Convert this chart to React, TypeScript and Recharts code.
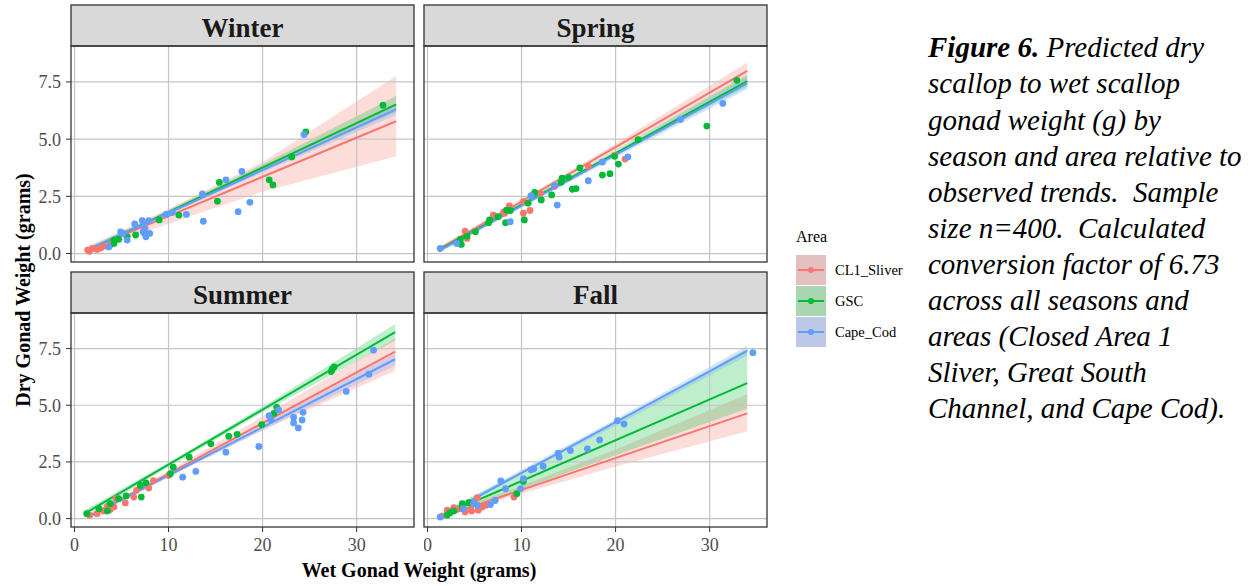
import React from 'react';
import { ComposedChart, XAxis, YAxis, Scatter, Line, Area, ReferenceLine } from 'recharts';

// ---------- categories & tick labels ----------
const AREAS = ['CL1_Sliver', 'GSC', 'Cape_Cod'];
const AREA_COLORS: Record<string, string> = { CL1_Sliver: '#F8766D', GSC: '#00BA38', Cape_Cod: '#619CFF' };
const KEY_FILLS: Record<string, string> = { CL1_Sliver: '#E3C1C0', GSC: '#A8D6B0', Cape_Cod: '#BCC8E6' };
const SEASONS = ['Winter', 'Spring', 'Summer', 'Fall'];
const X_TICKS = [0, 10, 20, 30];
const Y_TICKS = [0, 2.5, 5, 7.5];
const X_DOMAIN: [number, number] = [-0.37, 36.1];
const Y_DOMAIN: [number, number] = [-0.37, 9.07];
const X_TITLE = 'Wet Gonad Weight (grams)';
const Y_TITLE = 'Dry Gonad Weight (grams)';
const LEGEND_TITLE = 'Area';
const CAPTION_BOLD = 'Figure 6.';
const CAPTION_LINES = [
  ' Predicted dry',
  'scallop to wet scallop',
  'gonad weight (g) by',
  'season and area relative to',
  'observed trends.  Sample',
  'size n=400.  Calculated',
  'conversion factor of 6.73',
  'across all seasons and',
  'areas (Closed Area 1',
  'Sliver, Great South',
  'Channel, and Cape Cod).',
];

// ---------- observed points [wet, dry] ----------
const winterCL1Pts = [[1.4, 0.15], [1.6, 0.1], [1.9, 0.22], [2.4, 0.18], [2.8, 0.24], [3.1, 0.32], [3.8, 0.37], [4.3, 0.6]];
const winterGSCPts = [[32.8, 6.48], [24.6, 5.32], [23.1, 4.22], [15.4, 3.11], [15.2, 2.29], [20.7, 3.22], [21.1, 3.0], [11.1, 1.68], [9.0, 1.47], [7.45, 0.88], [6.5, 0.81], [5.6, 0.73], [4.2, 0.59], [4.2, 0.44], [4.7, 0.62]];
const winterCCPts = [[24.4, 5.2], [17.8, 3.59], [16.1, 3.22], [13.6, 2.61], [18.65, 2.24], [17.4, 1.83], [13.7, 1.41], [11.9, 1.71], [10.4, 1.79], [9.75, 1.71], [6.4, 1.29], [7.2, 1.44], [7.9, 1.44], [7.3, 0.95], [7.5, 1.1], [4.9, 0.95], [5.2, 0.88], [3.65, 0.29], [5.6, 0.59], [7.6, 0.73], [8.0, 0.88]];

const springCL1Pts = [[21.0, 4.13], [19.9, 4.29], [17.1, 3.81], [12.0, 2.64], [10.2, 2.27], [10.9, 1.88], [10.2, 1.76], [8.7, 2.08], [8.1, 1.82], [7.0, 1.68], [4.0, 0.98], [4.2, 0.66], [8.2, 1.76], [13.5, 2.93]];
const springGSCPts = [[32.9, 7.57], [29.7, 5.57], [22.4, 4.98], [19.9, 4.25], [20.3, 3.91], [19.4, 3.49], [18.6, 3.43], [16.2, 3.74], [15.0, 3.33], [14.3, 3.3], [14.2, 3.11], [15.4, 2.81], [15.8, 2.84], [13.2, 2.56], [12.1, 2.34], [11.4, 2.67], [10.7, 2.2], [10.3, 1.47], [8.8, 1.88], [8.4, 1.9], [8.3, 1.35], [7.5, 1.61], [6.6, 1.47], [6.5, 1.35], [5.1, 0.95], [4.2, 0.76], [3.6, 0.4], [3.1, 0.47], [3.5, 0.62]];
const springCCPts = [[31.4, 6.56], [26.9, 5.86], [21.3, 4.22], [18.6, 4.0], [17.1, 3.18], [13.5, 2.97], [13.8, 2.12], [11.0, 2.53], [8.8, 1.39], [3.1, 0.44], [1.35, 0.22]];

const summerCL1Pts = [[10.0, 1.9], [8.4, 1.68], [7.9, 1.35], [6.6, 1.25], [6.3, 0.95], [5.4, 0.69], [4.4, 0.88], [4.2, 0.51], [3.5, 0.54], [3.1, 0.34], [2.4, 0.22], [1.6, 0.15], [3.8, 0.4]];
const summerGSCPts = [[27.6, 6.69], [27.3, 6.49], [27.4, 6.59], [21.5, 4.91], [21.2, 4.64], [19.9, 4.15], [17.3, 3.72], [16.4, 3.63], [14.5, 3.3], [12.2, 2.71], [10.5, 2.27], [10.2, 1.98], [7.6, 1.58], [7.0, 1.46], [7.1, 0.95], [5.5, 1.0], [4.7, 0.88], [3.5, 0.34], [2.6, 0.44], [1.3, 0.22], [3.8, 0.66]];
const summerCCPts = [[31.8, 7.43], [31.3, 6.37], [28.9, 5.61], [24.2, 4.35], [24.3, 4.69], [23.3, 4.47], [23.3, 4.22], [23.8, 4.0], [21.7, 4.8], [20.7, 4.54], [20.9, 4.35], [19.6, 3.18], [16.1, 2.93], [12.9, 2.08], [11.5, 1.83]];

const fallCL1Pts = [[9.2, 0.95], [5.3, 0.92], [5.8, 0.51], [5.4, 0.37], [4.6, 0.4], [3.3, 0.44], [2.8, 0.48], [2.1, 0.37], [1.5, 0.1], [6.2, 0.59], [4.7, 0.34], [4.0, 0.29]];
const fallGSCPts = [[10.2, 1.64], [9.5, 1.1], [4.4, 0.7], [3.7, 0.66], [3.7, 0.48], [2.4, 0.26], [2.1, 0.15], [2.8, 0.34]];
const fallCCPts = [[34.6, 7.32], [20.2, 4.32], [20.9, 4.17], [18.3, 3.47], [17.0, 3.08], [15.2, 3.0], [13.9, 2.89], [14.0, 2.71], [12.3, 2.31], [11.3, 2.2], [11.0, 2.15], [10.2, 1.76], [7.8, 1.66], [8.3, 1.32], [7.2, 0.8], [6.7, 0.62], [9.9, 1.32], [5.3, 0.59], [4.9, 0.66], [3.8, 0.44], [1.35, 0.07]];

// ---------- predicted lines [wet, dry] ----------
const winterCL1Fit = [[1.3, 0.15], [34.2, 5.78]];
const winterGSCFit = [[1.3, 0.12], [34.2, 6.52]];
const winterCCFit = [[1.3, 0.15], [34.2, 6.3]];
const springCL1Fit = [[1.2, 0.18], [34.0, 7.98]];
const springGSCFit = [[1.2, 0.15], [34.0, 7.54]];
const springCCFit = [[1.2, 0.12], [34.0, 7.44]];
const summerCL1Fit = [[1.5, 0.07], [34.1, 7.37]];
const summerGSCFit = [[1.2, 0.25], [34.1, 8.23]];
const summerCCFit = [[1.5, 0.1], [34.1, 7.03]];
const fallCL1Fit = [[1.35, 0.05], [34.0, 4.64]];
const fallGSCFit = [[1.35, 0.1], [34.0, 5.98]];
const fallCCFit = [[1.35, 0.07], [34.0, 7.4]];

// ---------- confidence bands [wet, low, high] ----------
const winterCL1Band = [[1.3, 0.05, 0.3], [10, 1.3, 1.95], [20, 2.7, 4.0], [34.2, 4.25, 7.76]];
const winterGSCBand = [[1.3, 0.02, 0.22], [10, 1.72, 1.9], [20, 3.6, 3.9], [34.2, 6.2, 6.88]];
const winterCCBand = [[1.3, 0.06, 0.24], [10, 1.7, 1.86], [20, 3.54, 3.77], [34.2, 6.05, 6.55]];
const springCL1Band = [[1.2, 0.08, 0.3], [10, 2.17, 2.37], [20, 4.5, 4.8], [34.0, 7.62, 8.35]];
const springGSCBand = [[1.2, 0.05, 0.26], [10, 2.05, 2.21], [20, 4.28, 4.5], [34.0, 7.28, 7.82]];
const springCCBand = [[1.2, 0.03, 0.22], [10, 2.0, 2.16], [20, 4.2, 4.44], [34.0, 7.18, 7.7]];
const summerCL1Band = [[1.5, 0.0, 0.15], [10, 1.85, 2.1], [20, 3.9, 4.5], [34.1, 6.52, 7.95]];
const summerGSCBand = [[1.2, 0.1, 0.4], [10, 2.28, 2.48], [20, 4.68, 4.94], [34.1, 7.86, 8.58]];
const summerCCBand = [[1.5, 0.0, 0.2], [10, 1.82, 2.0], [20, 3.9, 4.15], [34.1, 6.75, 7.3]];
const fallCL1Band = [[1.35, 0.0, 0.15], [10, 1.1, 1.45], [20, 2.3, 3.05], [34.0, 3.85, 5.49]];
const fallGSCBand = [[1.35, 0.0, 0.25], [10, 1.3, 2.1], [20, 2.8, 4.2], [34.0, 4.85, 7.52]];
const fallCCBand = [[1.35, 0.0, 0.15], [10, 1.98, 2.15], [20, 4.1, 4.38], [34.0, 7.2, 7.62]];

const PANEL_DATA: Record<string, Record<string, { pts: number[][]; fit: number[][]; band: number[][] }>> = {
  Winter: {
    CL1_Sliver: { pts: winterCL1Pts, fit: winterCL1Fit, band: winterCL1Band },
    GSC: { pts: winterGSCPts, fit: winterGSCFit, band: winterGSCBand },
    Cape_Cod: { pts: winterCCPts, fit: winterCCFit, band: winterCCBand },
  },
  Spring: {
    CL1_Sliver: { pts: springCL1Pts, fit: springCL1Fit, band: springCL1Band },
    GSC: { pts: springGSCPts, fit: springGSCFit, band: springGSCBand },
    Cape_Cod: { pts: springCCPts, fit: springCCFit, band: springCCBand },
  },
  Summer: {
    CL1_Sliver: { pts: summerCL1Pts, fit: summerCL1Fit, band: summerCL1Band },
    GSC: { pts: summerGSCPts, fit: summerGSCFit, band: summerGSCBand },
    Cape_Cod: { pts: summerCCPts, fit: summerCCFit, band: summerCCBand },
  },
  Fall: {
    CL1_Sliver: { pts: fallCL1Pts, fit: fallCL1Fit, band: fallCL1Band },
    GSC: { pts: fallGSCPts, fit: fallGSCFit, band: fallGSCBand },
    Cape_Cod: { pts: fallCCPts, fit: fallCCFit, band: fallCCBand },
  },
};

// ---------- layout ----------
const FONT = '"Liberation Serif", "Times New Roman", serif';
const LAYOUT: Record<string, { left: number; top: number; width: number; plotH: number; showX: boolean; showY: boolean }> = {
  Winter: { left: 0, top: 46, width: 414, plotH: 216, showX: false, showY: true },
  Spring: { left: 424, top: 46, width: 343, plotH: 216, showX: false, showY: false },
  Summer: { left: 0, top: 313, width: 414, plotH: 214, showX: true, showY: true },
  Fall: { left: 424, top: 313, width: 343, plotH: 214, showX: true, showY: false },
};
const Y_AXIS_W = 71;
const X_AXIS_H = 34;
const SPARE_BOTTOM = 12;
const STRIP_H = 41;

const tickStyle = { fill: '#4D4D4D', fontSize: 18, fontFamily: FONT };

function Panel({ season }: { season: string }) {
  const L = LAYOUT[season];
  const data = PANEL_DATA[season];
  const height = L.plotH + (L.showX ? X_AXIS_H : SPARE_BOTTOM);
  return (
    <div style={{ position: 'absolute', left: L.left, top: L.top }}>
      <ComposedChart
        width={L.width}
        height={height}
        margin={{ top: 0, right: 0, bottom: L.showX ? 0 : SPARE_BOTTOM, left: 0 }}
        style={{ overflow: 'visible' }}
      >
        <XAxis
          type="number"
          dataKey="x"
          domain={X_DOMAIN}
          allowDataOverflow
          ticks={X_TICKS}
          hide={!L.showX}
          height={X_AXIS_H}
          axisLine={false}
          tickLine={{ stroke: '#333', strokeWidth: 1 }}
          tickSize={5}
          tickMargin={6}
          tick={tickStyle}
          interval={0}
        />
        <YAxis
          type="number"
          domain={Y_DOMAIN}
          allowDataOverflow
          ticks={Y_TICKS}
          hide={!L.showY}
          width={Y_AXIS_W}
          axisLine={false}
          tickLine={{ stroke: '#333', strokeWidth: 1 }}
          tickSize={5}
          tickMargin={5}
          tick={tickStyle}
          tickFormatter={(v: number) => v.toFixed(1)}
          interval={0}
        />
        {X_TICKS.map((t) => (
          <ReferenceLine key={'gx' + t} x={t} stroke="#C4C4C4" strokeWidth={1.2} />
        ))}
        {Y_TICKS.map((t) => (
          <ReferenceLine key={'gy' + t} y={t} stroke="#C4C4C4" strokeWidth={1.2} />
        ))}
        {AREAS.map((a) => (
          <Scatter
            key={'s' + a}
            data={data[a].pts.map(([x, y]) => ({ x, y }))}
            dataKey="y"
            fill={AREA_COLORS[a]}
            isAnimationActive={false}
            shape={(p: any) => <circle cx={p.cx} cy={p.cy} r={3.4} fill={AREA_COLORS[a]} />}
          />
        ))}
        {AREAS.map((a) => (
          <Area
            key={'b' + a}
            data={data[a].band.map(([x, lo, hi]) => ({ x, range: [lo, hi] }))}
            dataKey="range"
            type="linear"
            stroke="none"
            fill={AREA_COLORS[a]}
            fillOpacity={0.25}
            dot={false}
            activeDot={false}
            isAnimationActive={false}
          />
        ))}
        {AREAS.map((a) => (
          <Line
            key={'l' + a}
            data={data[a].fit.map(([x, y]) => ({ x, y }))}
            dataKey="y"
            type="linear"
            stroke={AREA_COLORS[a]}
            strokeWidth={2}
            dot={false}
            activeDot={false}
            isAnimationActive={false}
          />
        ))}
      </ComposedChart>
    </div>
  );
}

export default function App() {
  return (
    <div style={{ position: 'absolute', left: 0, top: 0, width: 1257, height: 586, background: '#fff', overflow: 'hidden' }}>
      {SEASONS.map((s) => (
        <Panel key={s} season={s} />
      ))}
      <svg width={1257} height={586} style={{ position: 'absolute', left: 0, top: 0, pointerEvents: 'none' }}>
        {SEASONS.map((s) => {
          const L = LAYOUT[s];
          const px = L.left + (L.showY ? Y_AXIS_W : 0);
          const pw = L.width - (L.showY ? Y_AXIS_W : 0);
          return (
            <g key={'f' + s}>
              <rect x={px} y={L.top - STRIP_H} width={pw} height={STRIP_H} fill="#D9D9D9" stroke="#333" strokeWidth={1.3} />
              <text x={px + pw / 2} y={L.top - STRIP_H + 31.5} textAnchor="middle" fontFamily={FONT} fontWeight="bold" fontSize={27} fill="#1A1A1A">
                {s}
              </text>
              <rect x={px} y={L.top} width={pw} height={L.plotH} fill="none" stroke="#333" strokeWidth={1.3} />
            </g>
          );
        })}
        <text x={419} y={577} textAnchor="middle" fontFamily={FONT} fontWeight="bold" fontSize={20} fill="#000">
          {X_TITLE}
        </text>
        <text x={30} y={290} transform="rotate(-90 30 290)" textAnchor="middle" fontFamily={FONT} fontWeight="bold" fontSize={20} fill="#000">
          {Y_TITLE}
        </text>
        {/* legend */}
        <text x={796} y={242} fontFamily={FONT} fontSize={16} fill="#000">
          {LEGEND_TITLE}
        </text>
        {AREAS.map((a, i) => {
          const y0 = 255 + i * 31;
          return (
            <g key={'k' + a}>
              <rect x={796} y={y0} width={30} height={30} fill={KEY_FILLS[a]} />
              <line x1={798} x2={824} y1={y0 + 15} y2={y0 + 15} stroke={AREA_COLORS[a]} strokeWidth={2} />
              <circle cx={811} cy={y0 + 15} r={3} fill={AREA_COLORS[a]} />
              <text x={835} y={y0 + 20} fontFamily={FONT} fontSize={14.5} fill="#000">
                {a}
              </text>
            </g>
          );
        })}
        {/* caption */}
        <text fontFamily={FONT} fontSize={29} fontStyle="italic" fill="#000" style={{ whiteSpace: 'pre' }}>
          {CAPTION_LINES.map((line, i) => (
            <tspan key={'c' + i} x={i === 0 ? undefined : 928} y={57.3 + i * 36.1}>
              {i === 0 ? (
                <>
                  <tspan x={928} fontWeight="bold">{CAPTION_BOLD}</tspan>
                  <tspan>{line}</tspan>
                </>
              ) : (
                line
              )}
            </tspan>
          ))}
        </text>
      </svg>
    </div>
  );
}
